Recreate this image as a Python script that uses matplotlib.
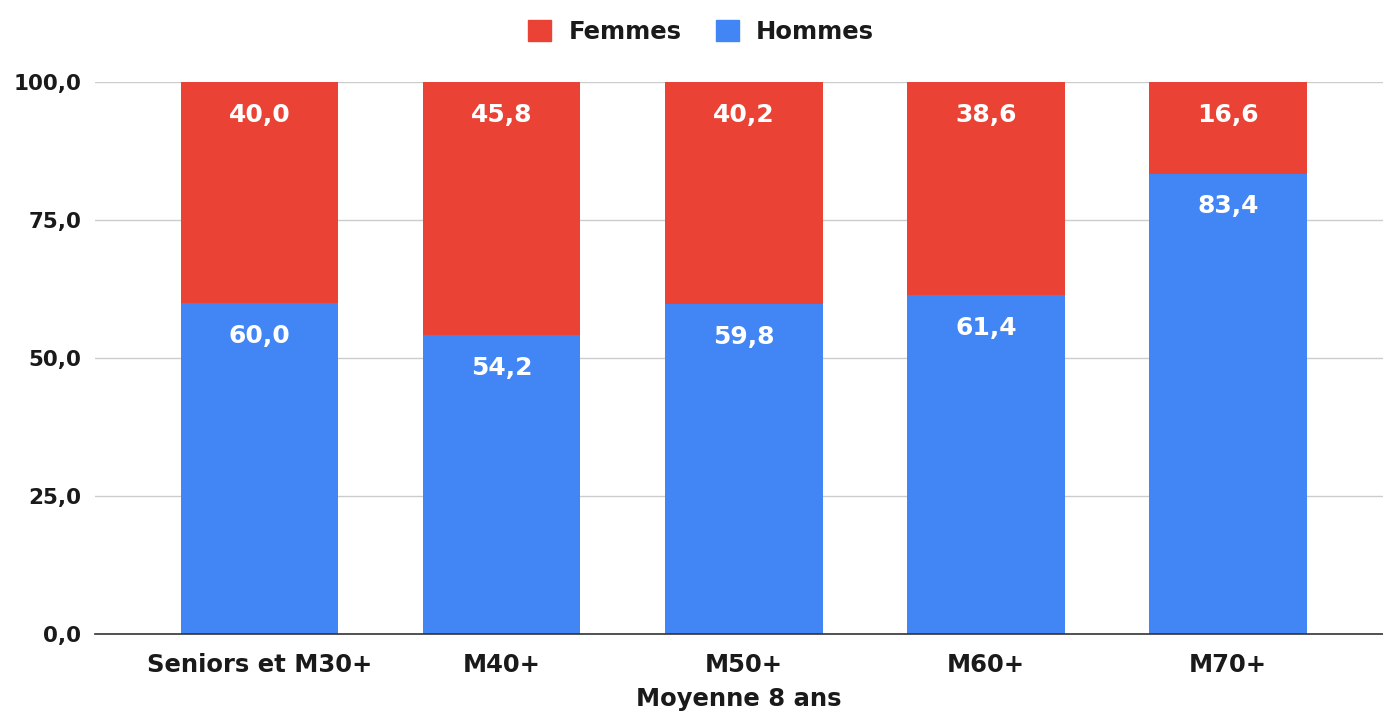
import matplotlib
matplotlib.use("Agg")
import matplotlib.pyplot as plt
from matplotlib.patches import Patch

categories = ["Seniors et M30+", "M40+", "M50+", "M60+", "M70+"]
hommes = [60.0, 54.2, 59.8, 61.4, 83.4]
femmes = [40.0, 45.8, 40.2, 38.6, 16.6]
yticks = [0, 25, 50, 75, 100]

RED = "#EA4335"
BLUE = "#4285F4"
TXT = "#1a1a1a"

plt.rcParams["font.family"] = ["DejaVu Sans"]


def fmt(v):
    return f"{v:.1f}".replace(".", ",")


fig = plt.figure(figsize=(13.83, 7.13), dpi=100)
ax = fig.add_axes([95 / 1383, 1 - 634 / 713, 1 - 95 / 1383, (634 - 82) / 713])

x = list(range(len(categories)))
width = 0.65
ax.bar(x, hommes, width, color=BLUE, zorder=2)
ax.bar(x, femmes, width, bottom=hommes, color=RED, zorder=2)

# value labels, just inside the top of each segment
for i in x:
    ax.annotate(fmt(hommes[i]), (i, hommes[i]), xytext=(0, -15),
                textcoords="offset points", ha="center", va="top",
                color="white", fontsize=18, fontweight="bold", zorder=3)
    ax.annotate(fmt(femmes[i]), (i, hommes[i] + femmes[i]), xytext=(0, -15),
                textcoords="offset points", ha="center", va="top",
                color="white", fontsize=18, fontweight="bold", zorder=3)

ax.set_xlim(-0.68, 4.64)
ax.set_ylim(0, 100)
ax.set_yticks(yticks)
ax.set_yticklabels([fmt(v) for v in yticks], fontsize=15.5, fontweight="bold", color=TXT)
ax.set_xticks(x)
ax.set_xticklabels(categories, fontsize=17.5, fontweight="bold", color=TXT)
ax.tick_params(axis="y", length=0, pad=10)
ax.tick_params(axis="x", length=0, pad=14)
ax.grid(axis="y", color="#cccccc", linewidth=1, zorder=0)
for s in ["top", "right", "left"]:
    ax.spines[s].set_visible(False)
ax.spines["bottom"].set_color("#333333")
ax.spines["bottom"].set_linewidth(1.2)
ax.spines["bottom"].set_zorder(3)
ax.set_xlabel("Moyenne 8 ans", fontsize=17.5, fontweight="bold", color=TXT, labelpad=7)

handles = [Patch(color=RED, label="Femmes"), Patch(color=BLUE, label="Hommes")]
fig.legend(handles=handles, loc="center", bbox_to_anchor=(701 / 1383, 1 - 32 / 713),
           ncol=2, frameon=False, prop={"size": 17.5, "weight": "bold"},
           labelcolor=TXT, handlelength=0.95, handleheight=0.95, handletextpad=0.7,
           columnspacing=1.4, borderpad=0)

fig.savefig("out.png", dpi=100)
